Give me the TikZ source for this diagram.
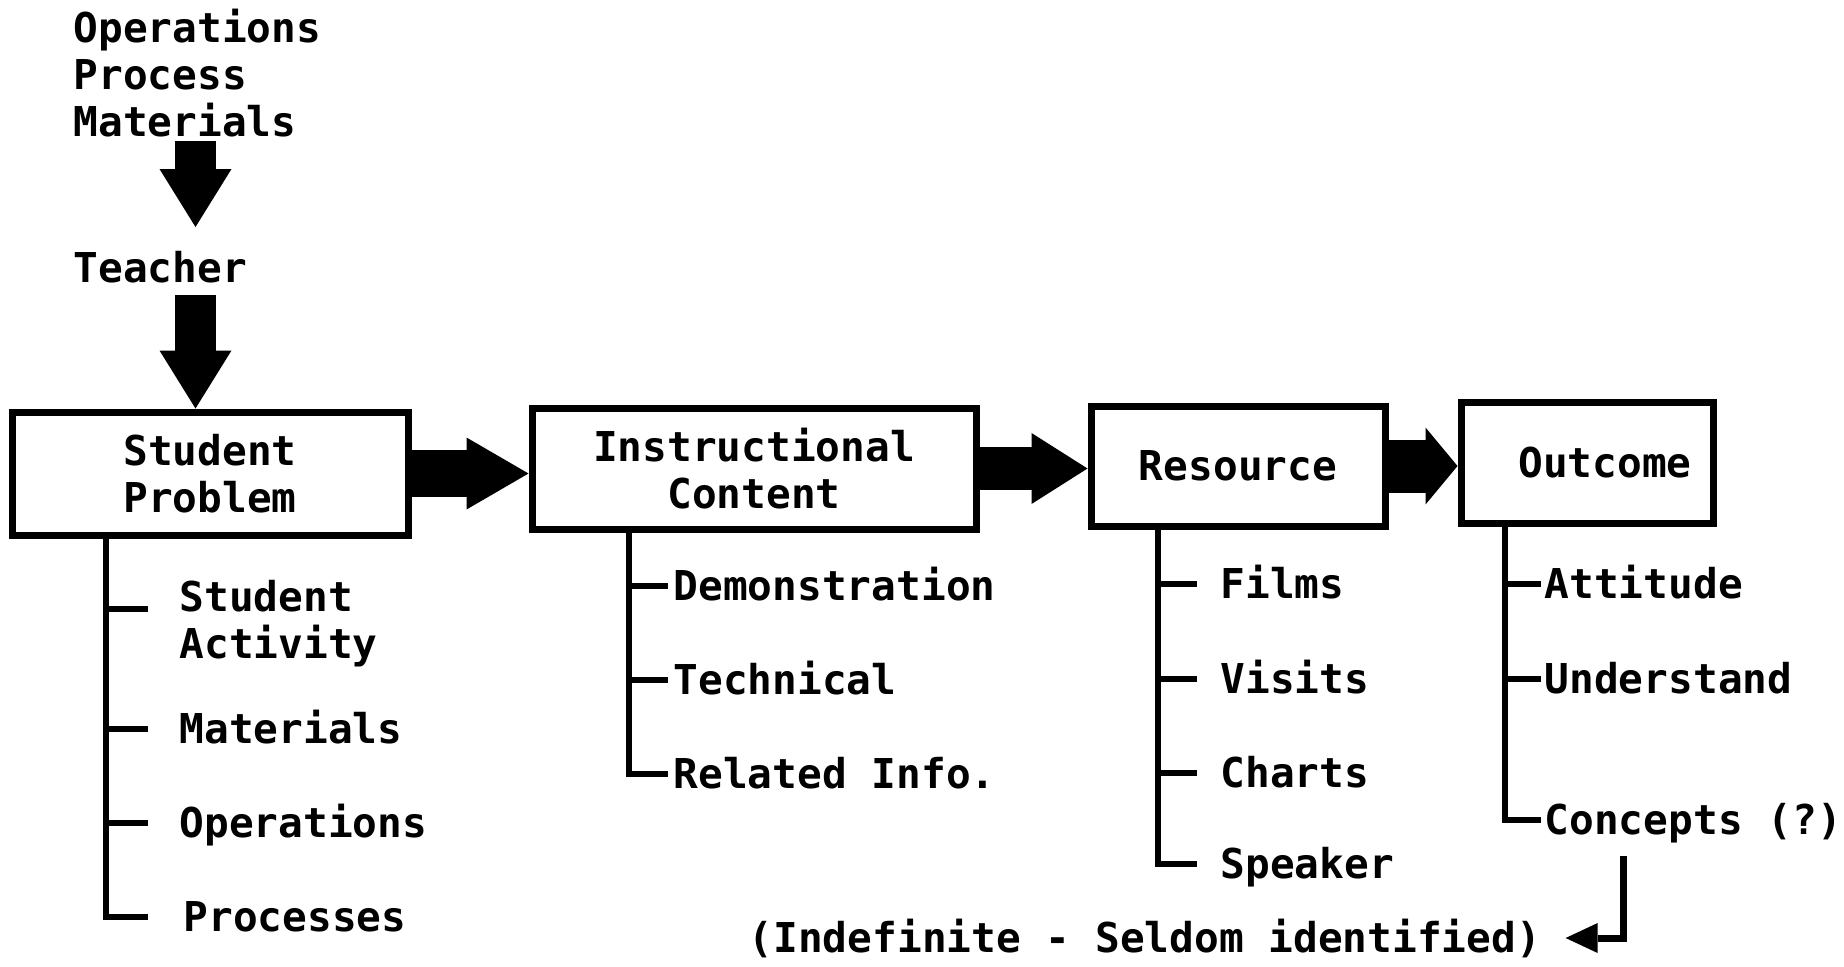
\documentclass[tikz,border=0pt]{standalone}
\usepackage{fontspec}
\setmonofont{DejaVu Sans Mono}
\usetikzlibrary{arrows.meta,calc}
\begin{document}
\begin{tikzpicture}[x=0.1mm,y=-0.1mm,
  every node/.style={font=\ttfamily\bfseries\fontsize{11.7}{13.3}\selectfont, inner sep=0pt},
  box/.style={draw, line width=0.7mm, align=center, line join=miter},
  lbl/.style={anchor=base west, align=left},
  tree/.style={line width=0.65mm, line join=miter},
  fatv/.style={line width=4.1mm, -{Triangle[length=5.8mm,width=7.2mm,line width=0pt]}},
  fat1/.style={line width=4.7mm, -{Triangle[length=6.2mm,width=7.2mm,line width=0pt]}},
  fat2/.style={line width=4.3mm, -{Triangle[length=5.6mm,width=7.1mm,line width=0pt]}},
  fat3/.style={line width=5.3mm, -{Triangle[length=3.2mm,width=7.7mm,line width=0pt]}},
  thinarrow/.style={line width=0.7mm, line join=miter, -{Triangle[length=3.2mm,width=3.0mm,line width=0pt]}}]
\useasboundingbox (0,0) rectangle (1844,966);

% top inputs (base anchor = baseline of last line)
\node[lbl] (src) at (73,136) {Operations\\Process\\Materials};
\node[lbl] (teacher) at (73,282) {Teacher};
\coordinate (a1s) at (195.5,141);
\coordinate (a1e) at (195.5,227);
\coordinate (a2s) at (195.5,295);

% main boxes
\node[box, minimum width=39.6mm, minimum height=12.3mm] (sp) at (210,473.5) {Student\\Problem};
\node[box, minimum width=44.4mm, minimum height=12.1mm] (ic) at (754,468.5) {Instructional\\Content};
\node[box, minimum width=29.4mm, minimum height=12.0mm] (rs) at (1238,466) {Resource};
\node[box, minimum width=25.2mm, minimum height=12.1mm] (oc) at (1587,462.5) {\hspace*{3.6mm}Outcome};

% vertical fat arrows
\draw[fatv] (a1s) -- (a1e);
\draw[fatv] (a2s) -- (sp.north -| a2s);

% horizontal fat arrows
\draw[fat1] (sp.east) -- (sp.east -| ic.west);
\draw[fat2] (ic.east) -- (ic.east -| rs.west);
\draw[fat3] (rs.east) -- (rs.east -| oc.west);

% Student Problem tree
\coordinate (spx) at (106,0);
\draw[tree] (sp.south -| spx) |- (148,917);
\foreach \yy in {609,729,823} \draw[tree] (106,\yy) -- (148,\yy);
\node[lbl] (sa) at (179,658) {Student\\Activity};
\node[lbl] (mat) at (179,743) {Materials};
\node[lbl] (opr) at (179,837) {Operations};
\node[lbl] (proc) at (183,931) {Processes};

% Instructional Content tree
\coordinate (icx) at (629,0);
\draw[tree] (ic.south -| icx) |- (668,774);
\foreach \yy in {586,680} \draw[tree] (629,\yy) -- (668,\yy);
\node[lbl] (demo) at (673,600) {Demonstration};
\node[lbl] (tech) at (673,694) {Technical};
\node[lbl] (rel) at (673,788) {Related Info.};

% Resource tree
\coordinate (rsx) at (1158,0);
\draw[tree] (rs.south -| rsx) |- (1197,864);
\foreach \yy in {584,679,773} \draw[tree] (1158,\yy) -- (1197,\yy);
\node[lbl] (films) at (1220,598) {Films};
\node[lbl] (visits) at (1220,693) {Visits};
\node[lbl] (charts) at (1220,787) {Charts};
\node[lbl] (speaker) at (1220,878) {Speaker};

% Outcome tree
\coordinate (ocx) at (1505,0);
\draw[tree] (oc.south -| ocx) |- (1541,820);
\foreach \yy in {584,679} \draw[tree] (1505,\yy) -- (1541,\yy);
\node[lbl] (att) at (1544,598) {Attitude};
\node[lbl] (und) at (1544,693) {Understand};
\node[lbl] (conc) at (1544,834) {Concepts (?)};

% bottom note
\node[lbl] (indef) at (748,952) {(Indefinite - Seldom identified)};
\coordinate (cdn) at (1623,856);
\draw[thinarrow] (cdn) |- ([xshift=2.4mm]indef.east);
\end{tikzpicture}
\end{document}
